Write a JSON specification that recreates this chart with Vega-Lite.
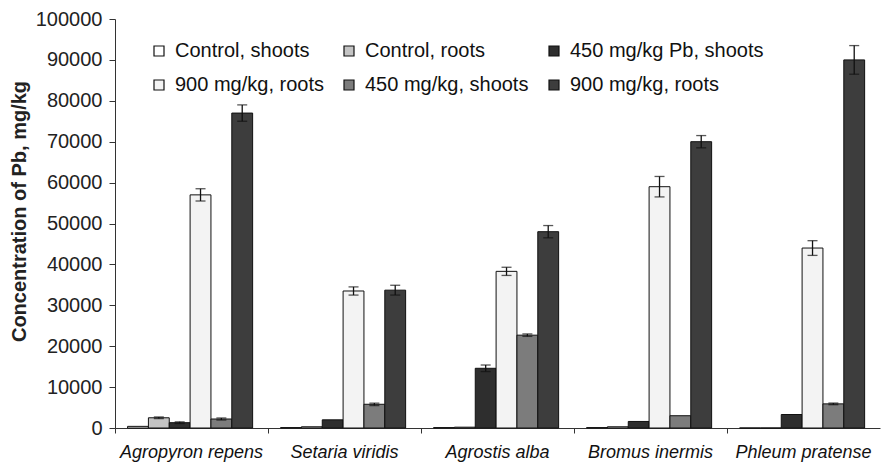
{
  "$schema": "https://vega.github.io/schema/vega-lite/v6.json",
  "width": 885,
  "height": 462,
  "autosize": {"type": "fit", "contains": "padding"},
  "padding": {"left": 9, "top": 9, "right": 5, "bottom": 1},
  "background": "white",
  "config": {
    "font": "Liberation Sans",
    "view": {"stroke": null},
    "axis": {"grid": false, "domainColor": "#333", "tickColor": "#333", "labelColor": "#222", "titleColor": "#222"}
  },
  "data": {
    "values": [
      {"species": "Agropyron repens", "series": "Control, shoots", "value": 400, "err": 0},
      {"species": "Agropyron repens", "series": "Control, roots", "value": 2500, "err": 200},
      {"species": "Agropyron repens", "series": "450 mg/kg Pb, shoots", "value": 1300, "err": 200},
      {"species": "Agropyron repens", "series": "900 mg/kg, roots", "value": 57000, "err": 1500},
      {"species": "Agropyron repens", "series": "450 mg/kg, shoots", "value": 2200, "err": 250},
      {"species": "Agropyron repens", "series": "900 mg/kg, roots ", "value": 77000, "err": 2000},
      {"species": "Setaria viridis", "series": "Control, shoots", "value": 100, "err": 0},
      {"species": "Setaria viridis", "series": "Control, roots", "value": 300, "err": 0},
      {"species": "Setaria viridis", "series": "450 mg/kg Pb, shoots", "value": 2000, "err": 0},
      {"species": "Setaria viridis", "series": "900 mg/kg, roots", "value": 33500, "err": 1000},
      {"species": "Setaria viridis", "series": "450 mg/kg, shoots", "value": 5800, "err": 300},
      {"species": "Setaria viridis", "series": "900 mg/kg, roots ", "value": 33700, "err": 1200},
      {"species": "Agrostis alba", "series": "Control, shoots", "value": 100, "err": 0},
      {"species": "Agrostis alba", "series": "Control, roots", "value": 200, "err": 0},
      {"species": "Agrostis alba", "series": "450 mg/kg Pb, shoots", "value": 14600, "err": 800},
      {"species": "Agrostis alba", "series": "900 mg/kg, roots", "value": 38300, "err": 1000},
      {"species": "Agrostis alba", "series": "450 mg/kg, shoots", "value": 22700, "err": 300},
      {"species": "Agrostis alba", "series": "900 mg/kg, roots ", "value": 48000, "err": 1500},
      {"species": "Bromus inermis", "series": "Control, shoots", "value": 100, "err": 0},
      {"species": "Bromus inermis", "series": "Control, roots", "value": 300, "err": 0},
      {"species": "Bromus inermis", "series": "450 mg/kg Pb, shoots", "value": 1600, "err": 0},
      {"species": "Bromus inermis", "series": "900 mg/kg, roots", "value": 59000, "err": 2500},
      {"species": "Bromus inermis", "series": "450 mg/kg, shoots", "value": 3000, "err": 0},
      {"species": "Bromus inermis", "series": "900 mg/kg, roots ", "value": 70000, "err": 1500},
      {"species": "Phleum pratense", "series": "Control, shoots", "value": 0, "err": 0},
      {"species": "Phleum pratense", "series": "Control, roots", "value": 0, "err": 0},
      {"species": "Phleum pratense", "series": "450 mg/kg Pb, shoots", "value": 3300, "err": 0},
      {"species": "Phleum pratense", "series": "900 mg/kg, roots", "value": 44000, "err": 1800},
      {"species": "Phleum pratense", "series": "450 mg/kg, shoots", "value": 5900, "err": 200},
      {"species": "Phleum pratense", "series": "900 mg/kg, roots ", "value": 90000, "err": 3500}
    ]
  },
  "encoding": {
    "x": {
      "field": "species", "type": "nominal", "sort": null,
      "scale": {"paddingInner": 0, "paddingOuter": 0},
      "axis": {"title": null, "labelAngle": 0, "labelFontSize": 18, "labelFontStyle": "italic", "labelPadding": 10, "tickSize": 5, "bandPosition": 0, "labelColor": "#111"}
    },
    "xOffset": {
      "field": "series", "type": "nominal", "sort": null,
      "scale": {"paddingInner": 0, "paddingOuter": 0.67, "align": 0.45}
    }
  },
  "layer": [
    {
      "mark": {"type": "bar", "stroke": "#111", "strokeWidth": 1},
      "encoding": {
        "y": {
          "field": "value", "type": "quantitative",
          "scale": {"domain": [0, 100000]},
          "axis": {"title": "Concentration of Pb, mg/kg", "titleFontSize": 20, "titleFontWeight": "bold", "titlePadding": 6, "titleY": 192, "labelFontSize": 20, "tickCount": 10, "format": "d", "tickSize": 6, "labelPadding": 7}
        },
        "fill": {
          "field": "series", "type": "nominal", "sort": null,
          "scale": {
            "domain": ["Control, shoots", "Control, roots", "450 mg/kg Pb, shoots", "900 mg/kg, roots", "450 mg/kg, shoots", "900 mg/kg, roots "],
            "range": ["#ffffff", "#c4c4c4", "#2e2e2e", "#f3f3f3", "#7c7c7c", "#3d3d3d"]
          },
          "legend": {
            "title": null, "orient": "none", "legendX": 34, "legendY": 22,
            "direction": "horizontal", "columns": 3, "gridAlign": "each",
            "columnPadding": 15, "rowPadding": 14,
            "symbolType": "square", "symbolSize": 100, "symbolStrokeColor": "#111", "symbolStrokeWidth": 1.2,
            "labelFontSize": 20, "labelColor": "#111", "labelOffset": 6, "labelLimit": 300
          }
        }
      }
    },
    {
      "transform": [{"filter": "datum.err > 0"}, {"calculate": "datum.value - datum.err", "as": "lo"}, {"calculate": "datum.value + datum.err", "as": "hi"}],
      "mark": {"type": "rule", "color": "#111", "strokeWidth": 1.3},
      "encoding": {
        "y": {"field": "lo", "type": "quantitative"},
        "y2": {"field": "hi"}
      }
    },
    {
      "transform": [{"filter": "datum.err > 0"}, {"calculate": "datum.value - datum.err", "as": "lo"}],
      "mark": {"type": "tick", "color": "#111", "size": 10, "thickness": 1.3},
      "encoding": {"y": {"field": "lo", "type": "quantitative"}}
    },
    {
      "transform": [{"filter": "datum.err > 0"}, {"calculate": "datum.value + datum.err", "as": "hi"}],
      "mark": {"type": "tick", "color": "#111", "size": 10, "thickness": 1.3},
      "encoding": {"y": {"field": "hi", "type": "quantitative"}}
    }
  ]
}
